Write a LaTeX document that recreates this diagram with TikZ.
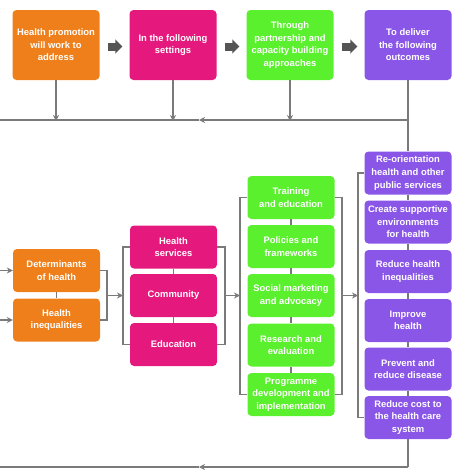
\documentclass[tikz,border=0pt]{standalone}
\usepackage{fontspec}
\setmainfont{Liberation Sans}
\usetikzlibrary{arrows.meta}
\definecolor{cor}{HTML}{EE7F1B}
\definecolor{cpk}{HTML}{E5197D}
\definecolor{cgr}{HTML}{5AF02E}
\definecolor{cpu}{HTML}{8A56E8}
\definecolor{lgray}{HTML}{7A7A7A}
\definecolor{bgray}{HTML}{555555}
\begin{document}
\begin{tikzpicture}[x=1pt,y=-1pt,
 box/.style={rounded corners=4pt, minimum width=87pt, minimum height=43pt, inner sep=0pt, align=center, text=white, font=\fontsize{9.4}{12.6}\selectfont\bfseries},
 topbox/.style={box, minimum height=70pt},
 ln/.style={draw=lgray, line width=1.1pt},
 arr/.style={ln, -{Stealth[length=6pt,width=6pt]}},
 blk/.style={draw=bgray, line width=8pt, -{Triangle[length=7pt,width=14pt]}}]
\useasboundingbox (0,0) rectangle (474,474);
% top row
\node[topbox, fill=cor] (t1) at (56,45) {Health promotion\\will work to\\address};
\node[topbox, fill=cpk] (t2) at (173,45) {In the following\\settings};
\node[topbox, fill=cgr] (t3) at (290,45) {Through\\partnership and\\capacity building\\approaches};
\node[topbox, fill=cpu] (t4) at (408,45) {To deliver\\the following\\outcomes};
\draw[blk] ([xshift=8pt,yshift=-1.5pt]t1.east) -- ([xshift=-7pt,yshift=-1.5pt]t2.west);
\draw[blk] ([xshift=8pt,yshift=-1.5pt]t2.east) -- ([xshift=-7pt,yshift=-1.5pt]t3.west);
\draw[blk] ([xshift=8pt,yshift=-1.5pt]t3.east) -- ([xshift=-7pt,yshift=-1.5pt]t4.west);
% orange column
\node[box, fill=cor] (o1) at (56.5,270.5) {Determinants\\of health};
\node[box, fill=cor] (o2) at (56.5,320) {Health\\inequalities};
% pink column
\node[box, fill=cpk] (p1) at (173.5,247) {Health\\services};
\node[box, fill=cpk] (p2) at (173.5,295.5) {Community};
\node[box, fill=cpk] (p3) at (173.5,344.5) {Education};
% green column
\node[box, fill=cgr] (g1) at (291,197.5) {Training\\and education};
\node[box, fill=cgr] (g2) at (291,246.5) {Policies and\\frameworks};
\node[box, fill=cgr] (g3) at (291,295.5) {Social marketing\\and advocacy};
\node[box, fill=cgr] (g4) at (291,345) {Research and\\evaluation};
\node[box, fill=cgr] (g5) at (291,394.5) {Programme\\development and\\implementation};
% purple column
\node[box, fill=cpu] (u1) at (408,173) {Re-orientation\\health and other\\public services};
\node[box, fill=cpu] (u2) at (408,222) {Create supportive\\environments\\for health};
\node[box, fill=cpu] (u3) at (408,271.5) {Reduce health\\inequalities};
\node[box, fill=cpu] (u4) at (408,320.5) {Improve\\health};
\node[box, fill=cpu] (u5) at (408,369) {Prevent and\\reduce disease};
\node[box, fill=cpu] (u6) at (408,417.5) {Reduce cost to\\the health care\\system};
% stacking links
\draw[ln] (o1) -- (o2);
\draw[ln] (p1) -- (p2) (p2) -- (p3);
\draw[ln] (g1) -- (g2) (g2) -- (g3) (g3) -- (g4) (g4) -- (g5);
\draw[ln] (u1) -- (u2) (u2) -- (u3) (u3) -- (u4) (u4) -- (u5) (u5) -- (u6);
% brackets
\draw[ln] (o1.east) -| (107,295) |- (o2.east);
\coordinate (ob) at (107,295.5);
\coordinate (pbl) at (123,295.5);
\draw[arr] (ob) -- (pbl);
\draw[ln] (p1.west) -| (pbl) |- (p3.west);
\coordinate (pbr) at (225,295.5);
\coordinate (gbl) at (240,295.5);
\draw[ln] (p1.east) -| (pbr) |- (p3.east);
\draw[arr] (pbr) -- (gbl);
\draw[ln] (g1.west) -| (gbl) |- (g5.west);
\coordinate (gbr) at (342,295.5);
\coordinate (ubl) at (358,295.5);
\draw[ln] (g1.east) -| (gbr) |- (g5.east);
\draw[arr] (gbr) -- (ubl);
\draw[ln] (u1.west) -| (ubl) |- (u6.west);
% left inputs
\coordinate (li1) at (0,270.5);
\coordinate (li2) at (0,320);
\draw[arr] (li1) -- (o1.west);
\draw[arr] (li2) -- (o2.west);
% top loop
\coordinate (tl1) at (56,120);
\coordinate (tl2) at (173,120);
\coordinate (tl3) at (290,120);
\coordinate (tr) at (408,120);
\coordinate (tm) at (199,120);
\coordinate (tle) at (0,120);
\draw[arr] (t1.south) -- ([yshift=-1pt]tl1);
\draw[arr] (t2.south) -- ([yshift=-1pt]tl2);
\draw[arr] (t3.south) -- ([yshift=-1pt]tl3);
\draw[ln] (t4.south) -- (u1.north);
\draw[arr] (tr) -- (tm);
\draw[ln] (tm) -- (tle);
% bottom loop
\coordinate (br) at (408,467);
\coordinate (bm) at (199,467);
\coordinate (ble) at (0,467);
\draw[ln] (u6.south) -- (br);
\draw[arr] (br) -- (bm);
\draw[ln] (bm) -- (ble);
\end{tikzpicture}
\end{document}
